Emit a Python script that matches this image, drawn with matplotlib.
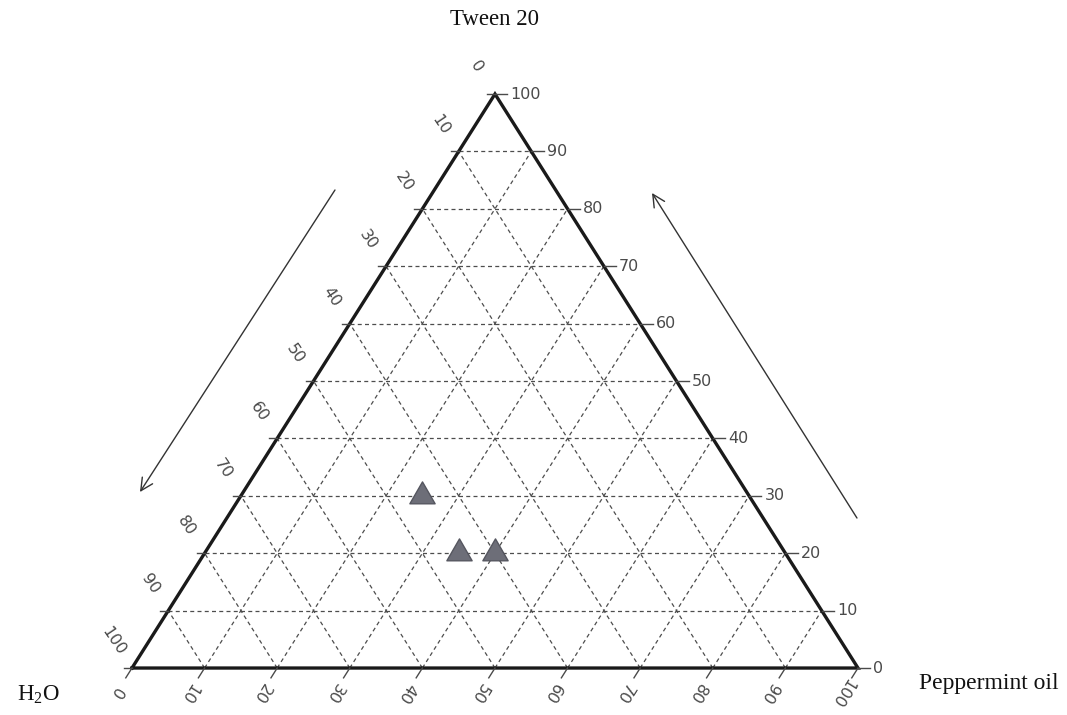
import numpy as np
import matplotlib
matplotlib.use("Agg")
import matplotlib.pyplot as plt
from matplotlib.path import Path

plt.rcParams["mathtext.fontset"] = "custom"
plt.rcParams["mathtext.rm"] = "Liberation Serif"

# Composition points (percent): peppermint oil, Tween 20, water
oil = [25, 35, 40]
tween = [30, 20, 20]
water = [45, 45, 40]

ticks = list(range(0, 101, 10))
apex_labels = ["Tween 20", "H$_\\mathrm{2}$O", "Peppermint oil"]

# triangle height relative to base (slightly flattened equilateral)
H = 79.06


def tern(o, t):
    """Map (oil %, tween %) to Cartesian plot coordinates."""
    o = np.asarray(o, dtype=float)
    t = np.asarray(t, dtype=float)
    return o + 0.5 * t, t * H / 100.0


fig = plt.figure(figsize=(10.67, 7.15), dpi=100)
ax = fig.add_axes([0, 0, 1, 1])
ax.set_xlim(-18.18, 128.79)
ax.set_ylim(-6.47, 92.01)
ax.axis("off")

grid_kw = dict(color="#4d4d4d", lw=0.9, dashes=(3.2, 2.6), zorder=1)
tick_col = "#4a4a4a"

# unit directions (data space) along the two slanted sides
L = np.hypot(50, H)
up_right = np.array([50, H]) / L     # parallel to the left side
up_left = np.array([-50, H]) / L     # parallel to the right side

for k in ticks[1:-1]:
    # constant Tween (horizontal)
    x, y = tern([0, 100 - k], [k, k])
    ax.plot(x, y, **grid_kw)
    # constant oil (parallel to left side)
    x, y = tern([k, k], [0, 100 - k])
    ax.plot(x, y, **grid_kw)
    # constant water (parallel to right side)
    x, y = tern([100 - k, 0], [0, 100 - k])
    ax.plot(x, y, **grid_kw)

# triangle outline
x, y = tern([0, 100, 0, 0], [0, 0, 100, 0])
ax.plot(x, y, color="#1a1a1a", lw=2.4, solid_joinstyle="miter", zorder=3)

tick_len = 1.6
lab_fs = 11.5
for k in ticks:
    # bottom axis: peppermint oil
    bx, by = tern(k, 0)
    d = -up_right
    ax.plot([bx, bx + d[0] * tick_len], [by, by + d[1] * tick_len],
            color=tick_col, lw=1.0, zorder=3)
    lx, ly = bx + d[0] * 4.0, by + d[1] * 4.0
    ax.text(lx, ly, str(k), rotation=238, ha="center", va="center",
            rotation_mode="anchor", fontsize=lab_fs, color=tick_col)

    # right axis: Tween 20
    rx, ry = tern(100 - k, k)
    ax.plot([rx, rx + 1.7], [ry, ry], color=tick_col, lw=1.0, zorder=3)
    ax.text(rx + 2.1, ry, str(k), ha="left", va="center",
            fontsize=lab_fs, color=tick_col)

    # left axis: water (0 at top, 100 at bottom)
    wx, wy = tern(0, 100 - k)
    ax.plot([wx, wx - 1.1], [wy, wy], color=tick_col, lw=1.0, zorder=3)
    lx, ly = wx - 2.5, wy + 3.7
    ax.text(lx, ly, str(k), rotation=-56, ha="center", va="center",
            rotation_mode="anchor", fontsize=lab_fs, color=tick_col)

# direction arrows beside the slanted sides
arrow_kw = dict(arrowstyle="->", color="#333333", lw=1.0,
                mutation_scale=22, shrinkA=0, shrinkB=0)
ax.annotate("", xy=(1.10, 24.24), xytext=(27.96, 65.84), arrowprops=arrow_kw)
ax.annotate("", xy=(71.63, 65.43), xytext=(99.86, 20.66), arrowprops=arrow_kw)

# triangle marker centred on its centroid
s3 = np.sqrt(3)
tri = Path([(0, 2 / 3), (-1 / s3, -1 / 3), (1 / s3, -1 / 3), (0, 2 / 3)],
           [Path.MOVETO, Path.LINETO, Path.LINETO, Path.CLOSEPOLY])

px, py = tern(oil, tween)
ax.plot(px, py, linestyle="none", marker=tri, markersize=21,
        markerfacecolor="#6d6e78", markeredgecolor="#55565f",
        markeredgewidth=1.0, zorder=5)

serif = "Liberation Serif"
ax.text(50, 89.3, apex_labels[0], ha="center", va="center",
        fontsize=16.5, family=serif, color="#111111")
ax.text(-12.95, -3.72, apex_labels[1], ha="center", va="center",
        fontsize=16.5, family=serif, color="#111111")
ax.text(118.0, -2.07, apex_labels[2], ha="center", va="center",
        fontsize=17, family=serif, color="#111111")

fig.savefig("out.png", dpi=100, facecolor="white")
